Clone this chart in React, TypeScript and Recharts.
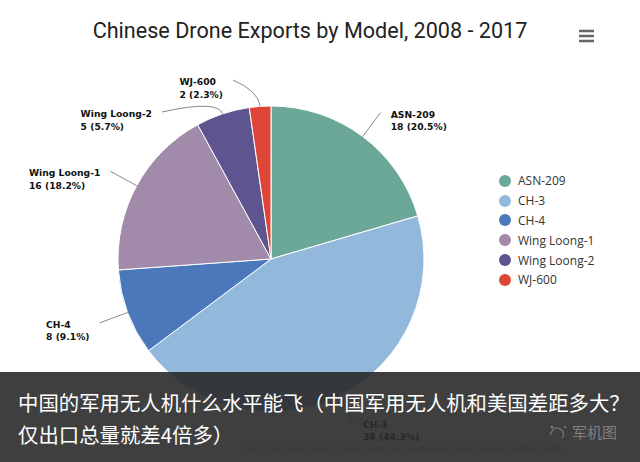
import React from "react";
import { PieChart, Pie, Cell, Legend } from "recharts";

const models = ["ASN-209", "CH-3", "CH-4", "Wing Loong-1", "Wing Loong-2", "WJ-600"];
const exports = [18, 39, 8, 16, 5, 2];
const colors = ["#6ba897", "#92b9db", "#4a78ba", "#a28aaa", "#5e5590", "#dd4636"];

const titleText = "Chinese Drone Exports by Model, 2008 - 2017";
const creditText = "CSIS China Power Project | Source: Stockholm International Peace Research Institute (SIPRI)";
const bannerLine1 = "中国的军用无人机什么水平能飞（中国军用无人机和美国差距多大？";
const bannerLine2 = "仅出口总量就差4倍多）";
const watermark = "军机图";

const data = models.map((m, i) => ({ name: m, value: exports[i] }));
const total = exports.reduce((a, b) => a + b, 0);

const CX = 271;
const CY = 259;
const R = 153;
const DIST = 30;
const TOP_LIMIT = 80;
const SPACING = 32;
const LABEL_FONT = "bold 9.2px 'DejaVu Sans'";

type Anchor = { x: number; y: number; ex: number; ey: number; right: boolean; sx: number; sy: number };

function computeAnchors(): Anchor[] {
  let acc = 0;
  const items = exports.map((v, i) => {
    const mid = ((acc + v / 2) / total) * 2 * Math.PI;
    acc += v;
    const sx = Math.sin(mid);
    const sy = -Math.cos(mid);
    return { i, sx, sy, right: sx >= 0, y: CY + sy * (R + DIST) };
  });
  const result: Anchor[] = new Array(items.length);
  [true, false].forEach((side) => {
    const group = items.filter((it) => it.right === side).sort((a, b) => a.y - b.y);
    let prev = -Infinity;
    group.forEach((it) => {
      const y = Math.max(it.y, TOP_LIMIT, prev + SPACING);
      prev = y;
      const dy = y - CY;
      const dx = Math.sqrt(Math.max(0, (R + DIST) * (R + DIST) - dy * dy));
      const x = side ? CX + dx : CX - dx;
      result[it.i] = {
        x,
        y,
        ex: CX + it.sx * R,
        ey: CY + it.sy * R,
        right: side,
        sx: it.sx,
        sy: it.sy,
      };
    });
  });
  return result;
}

const anchors = computeAnchors();

let measureCtx: CanvasRenderingContext2D | null = null;
function textWidth(s: string): number {
  if (!measureCtx) {
    const c = document.createElement("canvas");
    measureCtx = c.getContext("2d");
  }
  if (!measureCtx) return s.length * 6;
  measureCtx.font = LABEL_FONT;
  return measureCtx.measureText(s).width;
}

const renderLabel = (props: any) => {
  const { index, name, value } = props;
  const a = anchors[index];
  if (!a) return null;
  const cxp = a.ex + a.sx * DIST * 0.5;
  const cyp = a.ey + a.sy * DIST * 0.5;
  const path = `M ${a.x} ${a.y} Q ${cxp} ${cyp} ${a.ex} ${a.ey}`;
  const pct = ((value / total) * 100).toFixed(1);
  const line2 = `${value} (${pct}%)`;
  const w = Math.max(textWidth(name), textWidth(line2));
  const tx = a.right ? a.x + 10 : a.x - 10 - w;
  return (
    <g>
      <path d={path} stroke="#8a8a8a" strokeWidth={1} fill="none" />
      <text
        x={tx}
        y={a.y + 5}
        textAnchor="start"
        fontFamily="'DejaVu Sans', Verdana, sans-serif"
        fontWeight="bold"
        fontSize={9.2}
        fill="#111"
      >
        <tspan x={tx} dy={0}>{name}</tspan>
        <tspan x={tx} dy={12.5}>{line2}</tspan>
      </text>
    </g>
  );
};

const renderLegend = (props: any) => {
  const payload = [...(props.payload || [])].sort(
    (a: any, b: any) => models.indexOf(a.value) - models.indexOf(b.value)
  );
  return (
    <div>
      {payload.map((p: any, i: number) => (
        <div
          key={i}
          style={{ display: "flex", alignItems: "center", height: 19.8, fontFamily: "'Open Sans', sans-serif", fontSize: 12, color: "#333" }}
        >
          <svg width={14} height={14} style={{ marginRight: 6 }}>
            <circle cx={7} cy={7} r={6} fill={p.color} />
          </svg>
          <span>{p.value}</span>
        </div>
      ))}
    </div>
  );
};

export default function App() {
  return (
    <div style={{ position: "absolute", left: 0, top: 0, width: 640, height: 462, background: "#fff", overflow: "hidden" }}>
      <div
        style={{
          position: "absolute",
          left: 0,
          top: 18,
          width: 620,
          textAlign: "center",
          fontFamily: "Roboto, sans-serif",
          fontSize: 21.6,
          lineHeight: "26px",
          color: "#222",
        }}
      >
        {titleText}
      </div>
      <svg width={20} height={16} style={{ position: "absolute", left: 577, top: 28 }}>
        <line x1={2} y1={3} x2={17} y2={3} stroke="#666" strokeWidth={2.5} />
        <line x1={2} y1={8} x2={17} y2={8} stroke="#666" strokeWidth={2.5} />
        <line x1={2} y1={13} x2={17} y2={13} stroke="#666" strokeWidth={2.5} />
      </svg>
      <div style={{ position: "absolute", left: 0, top: 0 }}>
        <PieChart width={640} height={462} margin={{ top: 0, right: 0, bottom: 0, left: 0 }}>
          <Pie
            data={data}
            dataKey="value"
            nameKey="name"
            cx={CX}
            cy={CY}
            outerRadius={R}
            startAngle={90}
            endAngle={-270}
            stroke="#fff"
            strokeWidth={1}
            label={renderLabel}
            labelLine={false}
            isAnimationActive={false}
          >
            {data.map((d, i) => (
              <Cell key={d.name} fill={colors[i]} />
            ))}
          </Pie>
          <Legend
            layout="vertical"
            align="right"
            verticalAlign="middle"
            content={renderLegend}
            wrapperStyle={{ left: 498, top: 171, width: 140, right: "auto", bottom: "auto" }}
          />
        </PieChart>
      </div>
      <div
        style={{
          position: "absolute",
          right: 78,
          top: 443,
          fontFamily: "'Open Sans', sans-serif",
          fontSize: 7.5,
          color: "#aaa",
          whiteSpace: "nowrap",
        }}
      >
        {creditText}
      </div>
      <div
        style={{
          position: "absolute",
          left: 0,
          top: 372,
          width: 640,
          height: 90,
          background: "rgba(42,42,42,0.9)",
        }}
      >
        <div
          style={{
            padding: "14px 0 0 18px",
            fontFamily: "'Noto Sans CJK SC', sans-serif",
            fontSize: 20.4,
            lineHeight: "32px",
            color: "#fff",
            whiteSpace: "nowrap",
          }}
        >
          <div>{bannerLine1}</div>
          <div>{bannerLine2}</div>
        </div>
      </div>
      <svg width={24} height={22} style={{ position: "absolute", left: 546, top: 421 }}>
        <path d="M4 14 Q8 4 14 8 Q20 12 16 17" stroke="#777" strokeWidth={1.2} fill="none" />
        <circle cx={6} cy={6} r={1.5} fill="#777" />
        <circle cx={19} cy={6} r={1.2} fill="#777" />
      </svg>
      <div
        style={{
          position: "absolute",
          left: 572,
          top: 421,
          fontFamily: "'Noto Sans CJK SC', sans-serif",
          fontSize: 15,
          lineHeight: "22px",
          color: "#808080",
        }}
      >
        {watermark}
      </div>
    </div>
  );
}
